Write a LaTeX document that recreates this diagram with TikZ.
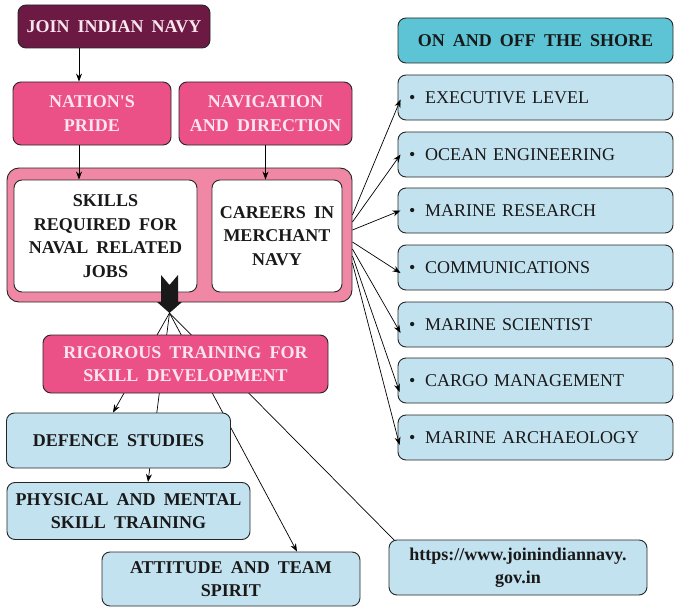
\documentclass[tikz,border=0pt]{standalone}
\usepackage{fontspec}
\setmainfont{Liberation Serif}[WordSpace=1.8]
\usepackage{xcolor}
\usepackage{tikz}
\usetikzlibrary{arrows.meta}
\usetikzlibrary{backgrounds}

\definecolor{navymaroon}{HTML}{6C1A44}
\definecolor{pridepink}{HTML}{EB5087}
\definecolor{framepink}{HTML}{F087A5}
\definecolor{shoreteal}{HTML}{5CC4D4}
\definecolor{listblue}{HTML}{C3E2F0}
\definecolor{softpink}{HTML}{FDE5EE}

\newcommand{\boxfont}{\fontsize{18}{23.5}\selectfont}
\newcommand{\boxbold}{\fontsize{18}{23.5}\selectfont\bfseries}

\tikzset{
  box/.style={draw=black!85,line width=0.9pt,rounded corners=8pt,align=center,inner sep=0pt},
  pinkbox/.style={box,fill=pridepink,text=softpink,font=\boxbold},
  whitebox/.style={box,fill=white,text=black!90,font=\boxbold},
  bluebox/.style={box,fill=listblue,text=black!90,font=\boxbold},
  listbox/.style={box,fill=listblue,text=black!90,font=\boxfont,minimum width=275pt,minimum height=45pt,text width=253pt,align=left},
  arr/.style={-{Stealth[length=8pt,width=6pt]},line width=0.7pt},
}

\begin{document}
\begin{tikzpicture}[x=1pt,y=-1pt]
  \useasboundingbox (0,0) rectangle (683,610);

  \node[box,fill=navymaroon,text=softpink,font=\boxbold,minimum width=192pt,minimum height=43pt] (join) at (114,26.5) {JOIN INDIAN NAVY};
  \node[pinkbox,minimum width=158pt,minimum height=63pt] (pride) at (92,113.5) {NATION\textquotesingle S\\PRIDE};
  \node[pinkbox,minimum width=173pt,minimum height=63pt] (navig) at (265.5,113.5) {NAVIGATION\\AND DIRECTION};

  \node[box,fill=framepink,rounded corners=12pt,minimum width=345pt,minimum height=134pt] (frame) at (179.5,235) {};
  \node[whitebox,minimum width=183pt,minimum height=112pt] (skills) at (105.5,236) {SKILLS\\REQUIRED FOR\\NAVAL RELATED\\JOBS};
  \node[whitebox,minimum width=130pt,minimum height=112pt] (careers) at (277,236) {CAREERS IN\\MERCHANT\\NAVY};

  \node[box,fill=shoreteal,text=black!90,font=\boxbold,minimum width=275pt,minimum height=45pt] (shore) at (535.5,40.5) {ON AND OFF THE SHORE};
  \node[listbox] (exec) at (535.5,97.5) {\textbullet\hspace{0.55em}EXECUTIVE LEVEL};
  \node[listbox] (ocean) at (535.5,154.5) {\textbullet\hspace{0.55em}OCEAN ENGINEERING};
  \node[listbox] (research) at (535.5,210.5) {\textbullet\hspace{0.55em}MARINE RESEARCH};
  \node[listbox] (comm) at (535.5,267.5) {\textbullet\hspace{0.55em}COMMUNICATIONS};
  \node[listbox] (scientist) at (535.5,324.5) {\textbullet\hspace{0.55em}MARINE SCIENTIST};
  \node[listbox] (cargo) at (535.5,380.5) {\textbullet\hspace{0.55em}CARGO MANAGEMENT};
  \node[listbox] (archaeo) at (535.5,437.5) {\textbullet\hspace{0.55em}MARINE ARCHAEOLOGY};

  \node[pinkbox,minimum width=285pt,minimum height=58pt] (rigor) at (185.5,364) {RIGOROUS TRAINING FOR\\SKILL DEVELOPMENT};
  \node[bluebox,minimum width=224pt,minimum height=55pt] (defence) at (118.5,440.5) {DEFENCE STUDIES};
  \node[bluebox,minimum width=243pt,minimum height=57pt] (physical) at (128.5,511) {PHYSICAL AND MENTAL\\SKILL TRAINING};
  \node[bluebox,minimum width=258pt,minimum height=54pt] (attitude) at (231,579) {ATTITUDE AND TEAM\\SPIRIT};
  \node[bluebox,minimum width=258pt,minimum height=55pt] (url) at (518,567.5) {https://www.joinindiannavy.\\gov.in};

  \draw[arr] ([xshift=-35pt]join.south) -- ([xshift=-13pt]pride.north);
  \draw[arr] ([xshift=-13pt]pride.south) -- ([xshift=-26.5pt]skills.north);
  \draw[arr] (navig.south) -- ([xshift=-11.5pt]careers.north);

  \draw[arr] ([yshift=20pt]frame.east) -- ([xshift=3pt,yshift=-2pt]exec.west);
  \draw[arr] ([yshift=13pt]frame.east) -- ([xshift=3pt]ocean.west);
  \draw[arr] ([yshift=5pt]frame.east) -- ([xshift=3pt]research.west);
  \draw[arr] ([yshift=-7pt]frame.east) -- ([xshift=3pt,yshift=-5.5pt]comm.west);
  \draw[arr] ([yshift=-14pt]frame.east) -- ([xshift=3pt,yshift=-8.5pt]scientist.west);
  \draw[arr] ([yshift=-21pt]frame.east) -- ([xshift=2pt,yshift=-11.5pt]cargo.west);
  \draw[arr] ([yshift=-28pt]frame.east) -- ([xshift=2pt,yshift=-7.5pt]archaeo.west);

  % big arrow out of the frame
  \fill[black!90] (161,275) -- (169.5,285) -- (178,275) -- (178,302) -- (182,302) -- (169.5,313) -- (157,302) -- (161,302) -- cycle;
  \coordinate (tip) at (169.5,313);

  \begin{scope}[on background layer]
    \draw[arr] (tip) -- ([xshift=-5.5pt]defence.north);
    \draw[arr] (tip) -- ([xshift=19.5pt]physical.north);
    \draw[arr] (tip) -- ([xshift=66pt]attitude.north);
    \draw[arr] (tip) -- ([xshift=14pt,yshift=-9pt]url.north west);
  \end{scope}
\end{tikzpicture}
\end{document}
